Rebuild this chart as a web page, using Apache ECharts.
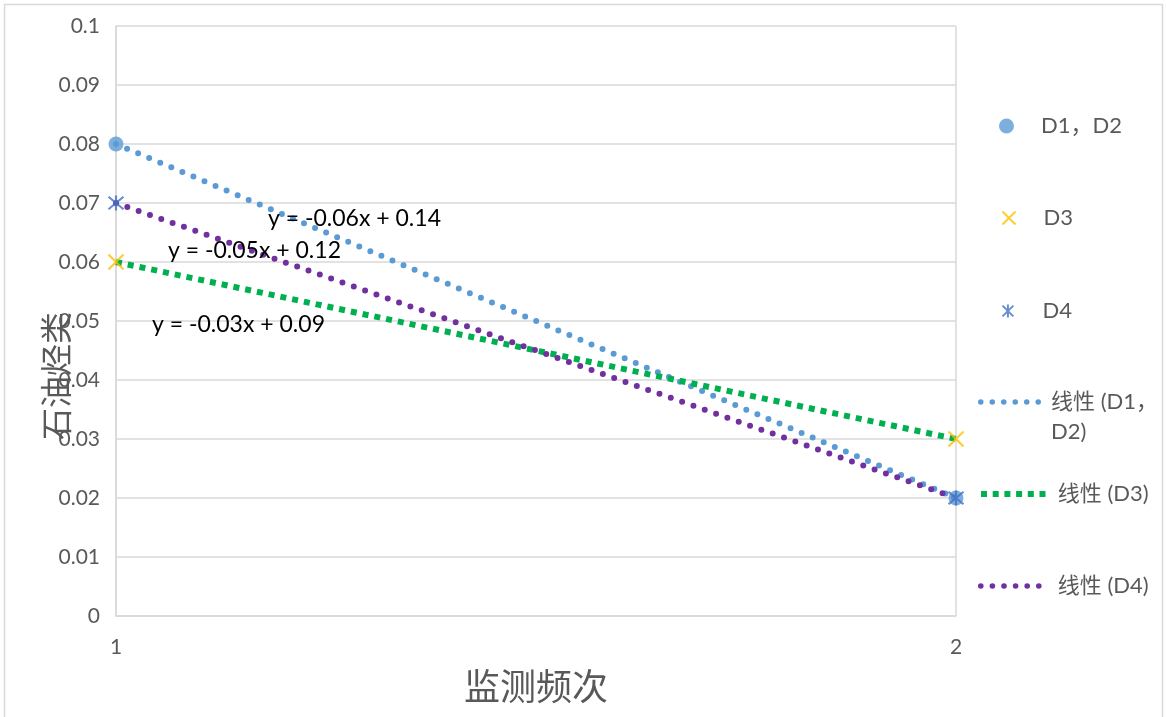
<!DOCTYPE html>
<html>
<head>
<meta charset="utf-8">
<script src="https://cdn.jsdelivr.net/npm/echarts@6/dist/echarts.min.js"></script>
<style>
html,body{margin:0;padding:0;background:#fff;}
#main{width:1167px;height:717px;}
</style>
</head>
<body>
<div id="main"></div>
<script>
// ---- data ----
const xValues = [1, 2];
const seriesNames = ['D1，D2', 'D3', 'D4'];
const d1d2 = [0.08, 0.02];
const d3 = [0.06, 0.03];
const d4 = [0.07, 0.02];
const trendNames = ['线性 (D1，D2)', '线性 (D3)', '线性 (D4)'];
const yTicks = [0, 0.01, 0.02, 0.03, 0.04, 0.05, 0.06, 0.07, 0.08, 0.09, 0.1];
const xTicks = [1, 2];
const xTitle = '监测频次';
const yTitle = '石油烃类';

// ---- helpers ----
function pairs(xs, ys) { return xs.map((x, i) => [x, ys[i]]); }
function linFit(xs, ys) {
  const n = xs.length;
  const mx = xs.reduce((a, b) => a + b, 0) / n;
  const my = ys.reduce((a, b) => a + b, 0) / n;
  let sxy = 0, sxx = 0;
  for (let i = 0; i < n; i++) { sxy += (xs[i] - mx) * (ys[i] - my); sxx += (xs[i] - mx) * (xs[i] - mx); }
  const k = sxy / sxx;
  const b = my - k * mx;
  return { k, b };
}
function trendData(xs, ys) {
  const f = linFit(xs, ys);
  const x0 = Math.min(...xs), x1 = Math.max(...xs);
  return [[x0, f.k * x0 + f.b], [x1, f.k * x1 + f.b]];
}
function eqText(xs, ys) {
  const f = linFit(xs, ys);
  const k = (Math.round(f.k * 100) / 100).toFixed(2);
  const b = Math.round(f.b * 100) / 100;
  return 'y = ' + k + 'x ' + (b < 0 ? '- ' : '+ ') + Math.abs(b).toFixed(2);
}
function dotPath(n, step, r) {
  let p = '';
  for (let i = 0; i < n; i++) {
    const cx = r + i * step;
    p += 'M' + (cx - r) + ',' + r + 'A' + r + ',' + r + ',0,1,0,' + (cx + r) + ',' + r + 'A' + r + ',' + r + ',0,1,0,' + (cx - r) + ',' + r + 'Z';
  }
  return 'path://' + p;
}
function squarePath(n, step, s) {
  let p = '';
  for (let i = 0; i < n; i++) {
    const x = i * step;
    p += 'M' + x + ',0L' + (x + s) + ',0L' + (x + s) + ',' + s + 'L' + x + ',' + s + 'Z';
  }
  return 'path://' + p;
}

const C_BLUE = '#5B9BD5', C_YELLOW = '#FFC000', C_D4 = '#4472C4', C_GREEN = '#00B050', C_PURPLE = '#7030A0';
const TXT = '#595959';
const FONT = 'Lato, "Noto Sans CJK SC", sans-serif';
const CJK = '"Noto Sans CJK SC", sans-serif';
const xMark = 'path://M0,0L10,10M10,0L0,10';
const starMark = 'path://M0,0L10,10M10,0L0,10M5,-1L5,11';

const chart = echarts.init(document.getElementById('main'), null, { renderer: 'canvas' });

function legendItem(name, left, top, icon, w, h, style, padLeft, fmt) {
  return {
    data: [{ name: name, icon: icon, itemStyle: style }],
    left: left, top: top, padding: 0,
    itemWidth: w, itemHeight: h,
    selectedMode: false,
    formatter: fmt || (n => n),
    textStyle: { color: TXT, fontSize: 22, fontFamily: FONT, lineHeight: 30, padding: [0, 0, 0, padLeft] }
  };
}

const option = {
  backgroundColor: '#fff',
  animation: false,
  grid: { left: 116, right: 211, top: 26, bottom: 101 },
  xAxis: {
    type: 'value', min: 1, max: 2, interval: 1,
    name: xTitle, nameLocation: 'middle', nameGap: 52, nameMoveOverlap: false,
    nameTextStyle: { fontSize: 36, color: TXT, fontFamily: CJK },
    axisLine: { show: true, lineStyle: { color: '#D9D9D9', width: 1.5 } },
    axisTick: { show: false },
    axisLabel: { color: TXT, fontSize: 21, fontFamily: FONT, margin: 21,
      formatter: v => xTicks.includes(v) ? String(v) : '' },
    splitLine: { show: true, lineStyle: { color: '#D9D9D9', width: 1.5 } }
  },
  yAxis: {
    type: 'value', min: 0, max: 0.1, interval: 0.01,
    name: yTitle, nameLocation: 'middle', nameGap: 44, nameRotate: 90, nameMoveOverlap: false,
    nameTextStyle: { fontSize: 32, color: TXT, fontFamily: CJK, padding: [0, 110, 0, 0] },
    axisLine: { show: true, lineStyle: { color: '#D9D9D9', width: 1.5 } },
    axisTick: { show: false },
    axisLabel: { color: TXT, fontSize: 21, fontFamily: FONT, margin: 16,
      formatter: v => { const t = yTicks.find(s => Math.abs(s - v) < 1e-9); return t === undefined ? '' : String(t); } },
    splitLine: { show: true, lineStyle: { color: '#D9D9D9', width: 1.5 } }
  },
  legend: [
    legendItem(seriesNames[0], 999, 111, 'circle', 15, 15, { color: C_BLUE }, 22),
    legendItem(seriesNames[1], 1000, 203, xMark, 13, 13, { color: 'none', borderColor: C_YELLOW, borderWidth: 2 }, 23),
    legendItem(seriesNames[2], 1000, 296, starMark, 13, 13, { color: 'none', borderColor: C_D4, borderWidth: 2 }, 23),
    legendItem(trendNames[0], 978, 357, dotPath(6, 11.6, 2.8), 63, 5.6, { color: C_BLUE, borderWidth: 0 }, 5,
      n => '\n' + n.replace('，D2)', '，\nD2)')),
    legendItem(trendNames[1], 981, 479, squarePath(6, 11.7, 6), 65, 6, { color: C_GREEN, borderWidth: 0 }, 7),
    legendItem(trendNames[2], 978, 571, dotPath(6, 11.6, 2.8), 64, 5.6, { color: C_PURPLE, borderWidth: 0 }, 11)
  ],
  graphic: [
    { type: 'rect', shape: { x: 4.5, y: 4.5, width: 1158, height: 730 }, style: { fill: 'none', stroke: '#D9D9D9', lineWidth: 1.5 }, silent: true, z: -1 },
    { type: 'text', x: 268, y: 219, style: { text: eqText(xValues, d1d2), fontSize: 23, fontFamily: FONT, fill: '#000', verticalAlign: 'middle' }, z: 100 },
    { type: 'text', x: 168, y: 251, style: { text: eqText(xValues, d4), fontSize: 23, fontFamily: FONT, fill: '#000', verticalAlign: 'middle' }, z: 100 },
    { type: 'text', x: 152, y: 325, style: { text: eqText(xValues, d3), fontSize: 23, fontFamily: FONT, fill: '#000', verticalAlign: 'middle' }, z: 100 }
  ],
  series: [
    { name: trendNames[0], type: 'line', data: trendData(xValues, d1d2), symbol: 'none', silent: true, z: 3,
      lineStyle: { color: C_BLUE, width: 6, type: [0, 12], cap: 'round' } },
    { name: trendNames[1], type: 'line', data: trendData(xValues, d3), symbol: 'none', silent: true, z: 3,
      lineStyle: { color: C_GREEN, width: 6, type: [6, 6], cap: 'butt' } },
    { name: trendNames[2], type: 'line', data: trendData(xValues, d4), symbol: 'none', silent: true, z: 3,
      lineStyle: { color: C_PURPLE, width: 6, type: [0, 12], cap: 'round' } },
    { name: seriesNames[0], type: 'scatter', data: pairs(xValues, d1d2), symbol: 'circle', symbolSize: 15, z: 4,
      itemStyle: { color: C_BLUE } },
    { name: seriesNames[1], type: 'scatter', data: pairs(xValues, d3), symbol: xMark, symbolSize: 15, z: 4,
      itemStyle: { color: 'none', borderColor: C_YELLOW, borderWidth: 2.2 } },
    { name: seriesNames[2], type: 'scatter', data: pairs(xValues, d4), symbol: starMark, symbolSize: 15, z: 4,
      itemStyle: { color: 'none', borderColor: C_D4, borderWidth: 2.2 } }
  ]
};
chart.setOption(option);
</script>
</body>
</html>
